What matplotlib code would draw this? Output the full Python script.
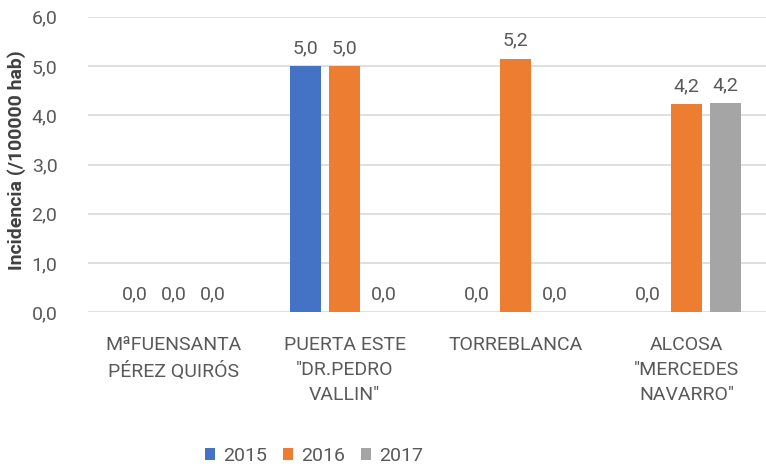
import matplotlib
matplotlib.use("Agg")
import matplotlib.pyplot as plt
import numpy as np

categories = ['MªFUENSANTA\nPÉREZ QUIRÓS', 'PUERTA ESTE\n"DR.PEDRO\nVALLIN"', 'TORREBLANCA', 'ALCOSA\n"MERCEDES\nNAVARRO"']
series_names = ['2015', '2016', '2017']
v2015 = [0.0, 5.0, 0.0, 0.0]
v2016 = [0.0, 5.0, 5.15, 4.22]
v2017 = [0.0, 0.0, 0.0, 4.24]
colors = ['#4472C4', '#ED7D31', '#A5A5A5']
yticks = [0, 1, 2, 3, 4, 5, 6]
ylabel = 'Incidencia (/100000 hab)'

plt.rcParams['font.family'] = ['Roboto', 'DejaVu Sans']
txt = '#595959'
fs = 14

fig = plt.figure(figsize=(7.66, 4.68), dpi=100)
ax = fig.add_axes([88/766, 1-312.3/468, 684/766, 295.6/468])

x = np.arange(len(categories))
bw = 31/171
step = 39/171
for i, (vals, name, c) in enumerate(zip([v2015, v2016, v2017], series_names, colors)):
    pos = x + (i-1)*step
    ax.bar(pos, vals, width=bw, color=c, label=name, zorder=3)
    for p, v in zip(pos, vals):
        ax.annotate(f'{v:.1f}'.replace('.', ','), (p, v), xytext=(0, 9), textcoords='offset pixels',
                    ha='center', va='bottom', fontsize=fs, color=txt)

ax.set_xlim(-0.5, len(categories)-0.5)
ax.set_ylim(0, 6)
ax.set_yticks(yticks)
ax.set_yticklabels([f'{t:.1f}'.replace('.', ',') for t in yticks], fontsize=fs, color=txt)
ax.set_xticks(x)
ax.set_xticklabels(categories, fontsize=fs, color=txt, linespacing=1.5, va='top')
ax.tick_params(axis='both', length=0)
ax.tick_params(axis='x', pad=17)
ax.tick_params(axis='y', pad=22)
ax.grid(axis='y', color='#D9D9D9', linewidth=1.2, zorder=0)
for s in ax.spines.values():
    s.set_visible(False)

fig.text(17/766, 1-160/468, ylabel, rotation=90, ha='center', va='center',
         fontsize=14, fontweight='bold', color='#404040')

fig.legend(loc='center', bbox_to_anchor=(314/766, 1-456/468), ncol=3, frameon=False,
           fontsize=fs, labelcolor=txt, handlelength=0.55, handleheight=0.55,
           handletextpad=0.4, columnspacing=0.8)

fig.savefig('out.png', dpi=100)
